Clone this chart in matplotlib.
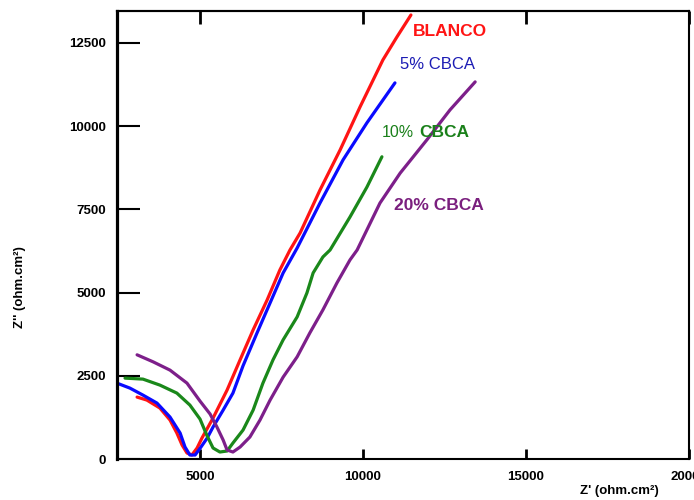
import matplotlib
matplotlib.use('Agg')
import matplotlib.pyplot as plt

plt.rcParams['font.family'] = ['Liberation Sans', 'DejaVu Sans']

# Nyquist data (Z' , Z'' in ohm.cm2)
blanco_x = [3070, 3370, 3770, 4080, 4290, 4450, 4600, 4750, 4910, 5060, 5400, 5830, 6230, 6630,
            7060, 7450, 7760, 8070, 8680, 9300, 9910, 10610, 11040, 11470]
blanco_y = [1860, 1770, 1530, 1170, 780, 420, 180, 120, 330, 630, 1230, 2070, 2980, 3880,
            4780, 5680, 6280, 6790, 8080, 9290, 10580, 11990, 12680, 13340]

cbca5_x = [2450, 2850, 3250, 3680, 4080, 4390, 4540, 4690, 4850, 5030, 5220, 5400, 5710, 6010,
           6320, 6750, 7150, 7550, 7980, 8680, 9390, 10120, 10980]
cbca5_y = [2280, 2130, 1920, 1680, 1260, 780, 360, 120, 120, 360, 630, 960, 1470, 1980,
           2800, 3790, 4690, 5590, 6340, 7690, 8990, 10100, 11300]

cbca10_x = [2700, 3250, 3770, 4290, 4690, 5000, 5220, 5400, 5610, 5830, 6010, 6320, 6630, 6930,
            7240, 7550, 7980, 8280, 8470, 8770, 8990, 9600, 10120, 10580]
cbca10_y = [2430, 2400, 2220, 1980, 1620, 1200, 690, 330, 210, 240, 480, 870, 1470, 2280,
            2980, 3580, 4270, 4990, 5590, 6070, 6280, 7270, 8170, 9080]

cbca20_x = [3070, 3560, 4080, 4600, 5000, 5310, 5520, 5710, 5830, 6010, 6230, 6530, 6840, 7150,
            7550, 7980, 8370, 8770, 9200, 9600, 9820, 10520, 11140, 11960, 12670, 13440]
cbca20_y = [3130, 2920, 2670, 2280, 1740, 1350, 960, 570, 270, 210, 360, 660, 1170, 1770,
            2460, 3070, 3790, 4480, 5290, 5980, 6280, 7690, 8590, 9590, 10490, 11330]

x_ticks = [5000, 10000, 15000, 20000]
y_ticks = [0, 2500, 5000, 7500, 10000, 12500]

fig = plt.figure(figsize=(6.94, 5.0), dpi=100)
ax = fig.add_axes([0.1686, 0.082, 0.8242, 0.896])

lw = 2.3
ax.plot(blanco_x, blanco_y, color='#ff1414', lw=lw, solid_joinstyle='round', solid_capstyle='round')
ax.plot(cbca5_x, cbca5_y, color='#0a0aff', lw=lw, solid_joinstyle='round', solid_capstyle='round')
ax.plot(cbca10_x, cbca10_y, color='#1a881a', lw=lw, solid_joinstyle='round', solid_capstyle='round')
ax.plot(cbca20_x, cbca20_y, color='#7d1f8a', lw=lw, solid_joinstyle='round', solid_capstyle='round')

# curve labels
ax.text(11530, 12830, 'BLANCO', color='#ff1414', fontsize=12.5, fontweight='bold', va='center')
ax.text(11135, 11840, '5% CBCA', color='#1c1cb4', fontsize=12, va='center')
ax.text(10583, 9800, '10%', color='#1a801a', fontsize=11.5, va='center')
ax.text(11720, 9800, 'CBCA', color='#1a801a', fontsize=12.5, fontweight='bold', va='center')
ax.text(10950, 7630, '20% CBCA', color='#7a1f7e', fontsize=12.5, fontweight='bold', va='center')

ax.set_xlim(2454, 20000)
ax.set_ylim(0, 13460)
ax.set_xticks(x_ticks)
ax.set_yticks(y_ticks)
for lab in ax.get_xticklabels() + ax.get_yticklabels():
    lab.set_fontweight('bold')
ax.tick_params(axis='x', direction='in', length=7, width=2, labelsize=9.5, pad=9, top=False)
ax.tick_params(axis='y', direction='in', length=16.5, width=1.5, labelsize=9.5, pad=8, right=False)

top = ax.secondary_xaxis('top')
top.set_xticks(x_ticks)
top.tick_params(direction='in', length=9, width=2, labeltop=False)
top.spines['top'].set_linewidth(1.5)

for side in ['top', 'right', 'bottom']:
    ax.spines[side].set_linewidth(1.5)
ax.spines['left'].set_linewidth(2.3)

fig.text(0.029, 0.426, "Z'' (ohm.cm²)", rotation=90, fontsize=9.5, fontweight='bold',
         ha='center', va='center')
fig.text(0.893, 0.018, "Z' (ohm.cm²)", fontsize=9.5, fontweight='bold', ha='center', va='center')

fig.savefig('out.png', dpi=100)
